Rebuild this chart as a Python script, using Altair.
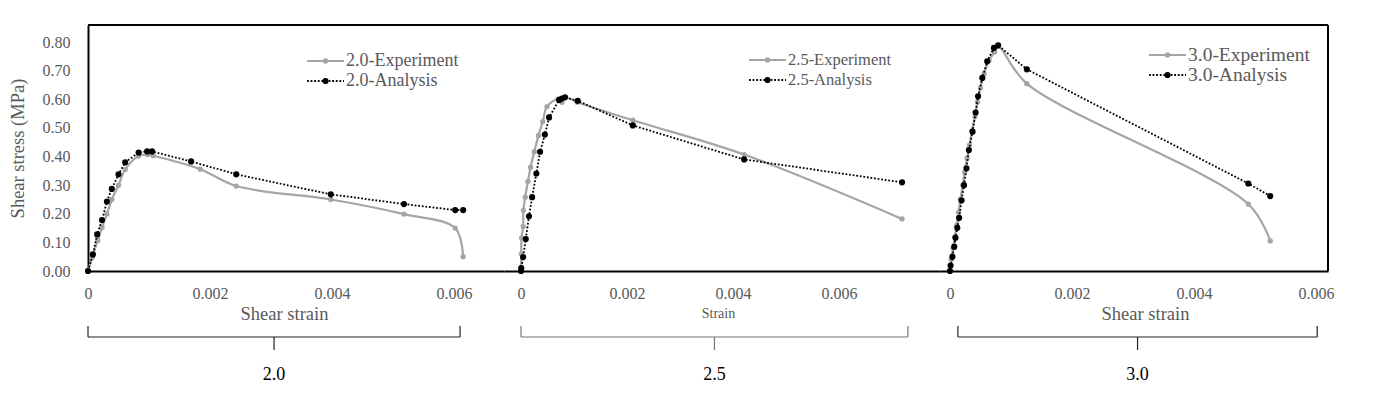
import altair as alt
import pandas as pd

# ---------------- data ----------------
groups = ["2.0", "2.5", "3.0"]
exp_names = ["2.0-Experiment", "2.5-Experiment", "3.0-Experiment"]
ana_names = ["2.0-Analysis", "2.5-Analysis", "3.0-Analysis"]
x_titles = ["Shear strain", "Strain", "Shear strain"]
y_title = "Shear stress (MPa)"
x_ticks = [0, 0.002, 0.004, 0.006]
y_ticks = [0, 0.1, 0.2, 0.3, 0.4, 0.5, 0.6, 0.7, 0.8]

exp_x_20 = [0, 0.00007, 0.00016, 0.00023, 0.00031, 0.00039, 0.00050, 0.00061, 0.00083,
            0.00098, 0.00107, 0.00184, 0.00243, 0.00398, 0.00518, 0.00602, 0.00615]
exp_y_20 = [0, 0.048, 0.107, 0.152, 0.199, 0.250, 0.300, 0.355, 0.402,
            0.407, 0.403, 0.356, 0.297, 0.250, 0.199, 0.150, 0.050]
ana_x_20 = [0, 0.00008, 0.00015, 0.00023, 0.00031, 0.00039, 0.00050, 0.00061, 0.00083,
            0.00097, 0.00105, 0.00169, 0.00243, 0.00398, 0.00518, 0.00602, 0.00615]
ana_y_20 = [0, 0.058, 0.128, 0.178, 0.243, 0.287, 0.338, 0.380, 0.414,
            0.418, 0.418, 0.383, 0.338, 0.268, 0.234, 0.213, 0.213]

exp_x_25 = [0, 0.000005, 0.00001, 0.00004, 0.000045, 0.00008, 0.00013, 0.00018, 0.00025,
            0.00033, 0.00041, 0.00049, 0.00070, 0.00077, 0.00083, 0.00106, 0.00211, 0.00421, 0.00719]
exp_y_25 = [0, 0.060, 0.116, 0.156, 0.212, 0.258, 0.313, 0.363, 0.417,
            0.474, 0.522, 0.575, 0.601, 0.590, 0.607, 0.590, 0.527, 0.407, 0.182]
ana_x_25 = [0, 0.000005, 0.00004, 0.00009, 0.00015, 0.00021, 0.00029, 0.00036, 0.00045,
            0.00053, 0.00072, 0.00077, 0.00083, 0.00107, 0.00211, 0.00421, 0.00719]
ana_y_25 = [0, 0.010, 0.049, 0.112, 0.191, 0.258, 0.341, 0.417, 0.477,
            0.537, 0.598, 0.603, 0.607, 0.595, 0.509, 0.390, 0.310]

exp_x_30 = [0, 0.00002, 0.00005, 0.00008, 0.00011, 0.00014, 0.00017, 0.00021, 0.00024, 0.00028,
            0.00032, 0.00036, 0.00041, 0.00045, 0.00050, 0.00056, 0.00064, 0.00073, 0.00079,
            0.00126, 0.00489, 0.00525]
exp_y_30 = [0, 0.040, 0.080, 0.120, 0.160, 0.205, 0.250, 0.300, 0.345, 0.395,
            0.440, 0.490, 0.540, 0.590, 0.640, 0.690, 0.735, 0.765, 0.785,
            0.655, 0.234, 0.105]
ana_x_30 = [0, 0.00001, 0.00004, 0.00007, 0.00009, 0.00012, 0.00015, 0.00019, 0.00023, 0.00027,
            0.00031, 0.00037, 0.00042, 0.00046, 0.00053, 0.00061, 0.00072, 0.00079,
            0.00126, 0.00489, 0.00525]
ana_y_30 = [0, 0.019, 0.050, 0.085, 0.116, 0.151, 0.186, 0.247, 0.300, 0.359,
            0.423, 0.487, 0.554, 0.611, 0.675, 0.733, 0.780, 0.789,
            0.705, 0.306, 0.262]

# strain range covered by each group brace
brace_lo = [0.0, 0.0, 0.00013]
brace_hi = [0.0061, 0.0073, 0.00602]

# ---------------- layout / style ----------------
H = 246
YMAX = 0.86
FONT = "Liberation Serif"
GRAY = "#A5A5A5"
TXT = "#595959"

panels = [
    dict(ex=exp_x_20, ey=exp_y_20, ax=ana_x_20, ay=ana_y_20, dom=[0, 0.00682], w=416,
         tsize=18.5, tx=196, leg=(219, 36, 18), brace="#222222"),
    dict(ex=exp_x_25, ey=exp_y_25, ax=ana_x_25, ay=ana_y_25, dom=[-0.000321, 0.007887], w=435,
         tsize=14, tx=214, leg=(245, 35, 16.5), brace="#777777"),
    dict(ex=exp_x_30, ey=exp_y_30, ax=ana_x_30, ay=ana_y_30, dom=[-0.000180, 0.006197], w=389,
         tsize=18.5, tx=206, leg=(210, 30, 19.5), brace="#222222"),
]

one = pd.DataFrame({"k": [0]})


def make_panel(i):
    p = panels[i]
    xs = alt.Scale(domain=p["dom"], nice=False, zero=False)
    ys = alt.Scale(domain=[0, YMAX], nice=False, zero=False)

    xaxis = alt.Axis(
        values=x_ticks,
        labelExpr="datum.value == 0 ? '0' : format(datum.value, '.3f')",
        title=x_titles[i], titleFontSize=p["tsize"], titleFont=FONT, titleColor=TXT,
        titleFontWeight="normal", titleX=p["tx"], titleY=42, titleBaseline="middle",
        titleAnchor="middle",
    )
    if i == 0:
        yaxis = alt.Axis(values=y_ticks, format=".2f", title=y_title, titleFontSize=18.5,
                         titleFont=FONT, titleColor=TXT, titleFontWeight="normal",
                         titleX=-60.5, titleY=H / 2, labelPadding=18)
    else:
        yaxis = None

    def X(f):
        return alt.X(f, scale=xs, axis=xaxis)

    def Y(f):
        return alt.Y(f, scale=ys, axis=yaxis)

    de = pd.DataFrame({"strain": p["ex"], "stress": p["ey"], "i": range(len(p["ex"]))})
    da = pd.DataFrame({"strain": p["ax"], "stress": p["ay"], "i": range(len(p["ax"]))})

    exp_line = alt.Chart(de).mark_line(color=GRAY, strokeWidth=2.2, interpolate="catmull-rom").encode(
        x=X("strain:Q"), y=Y("stress:Q"), order="i:Q")
    exp_pts = alt.Chart(de).mark_point(filled=True, color=GRAY, size=28, opacity=1).encode(
        x=X("strain:Q"), y=Y("stress:Q"))
    ana_line = alt.Chart(da).mark_line(color="black", strokeWidth=1.8, strokeDash=[1.8, 1.8]).encode(
        x=X("strain:Q"), y=Y("stress:Q"), order="i:Q")
    ana_pts = alt.Chart(da).mark_point(filled=True, color="black", size=38, opacity=1).encode(
        x=X("strain:Q"), y=Y("stress:Q"))

    # frame: top edge (and right edge on the last panel)
    frame = [alt.Chart(one).mark_rule(color="black", strokeWidth=2).encode(
        x=alt.value(0), x2=alt.value(p["w"]), y=alt.value(0))]
    if i == 2:
        frame.append(alt.Chart(one).mark_rule(color="black", strokeWidth=2).encode(
            x=alt.value(p["w"]), y=alt.value(0), y2=alt.value(H)))

    # legend (drawn inside the plot)
    lx, ly, lsz = p["leg"]
    legend = []
    rows = [(exp_names[i], GRAY, None, 2.2, 28), (ana_names[i], "black", [1.8, 1.8], 1.8, 38)]
    for j, (lab, col, dash, lw, ps) in enumerate(rows):
        yy = ly + j * 20
        kw = dict(color=col, strokeWidth=lw)
        if dash:
            kw["strokeDash"] = dash
        legend.append(alt.Chart(one).mark_rule(**kw).encode(
            x=alt.value(lx), x2=alt.value(lx + 37), y=alt.value(yy)))
        legend.append(alt.Chart(one).mark_point(filled=True, color=col, size=ps, opacity=1).encode(
            x=alt.value(lx + 18.5), y=alt.value(yy)))
        legend.append(alt.Chart(one).mark_text(text=lab, font=FONT, fontSize=lsz, color=TXT,
                                               align="left", baseline="middle").encode(
            x=alt.value(lx + 39), y=alt.value(yy)))

    # group brace and label
    db = pd.DataFrame({"lo": [brace_lo[i]], "hi": [brace_hi[i]],
                       "mid": [(brace_lo[i] + brace_hi[i]) / 2], "g": [groups[i]]})
    bc = p["brace"]
    brace = [
        alt.Chart(db).mark_rule(color=bc, strokeWidth=1.2).encode(
            x=X("lo:Q"), y=alt.value(301), y2=alt.value(312)),
        alt.Chart(db).mark_rule(color=bc, strokeWidth=1.2).encode(
            x=X("hi:Q"), y=alt.value(301), y2=alt.value(312)),
        alt.Chart(db).mark_rule(color=bc, strokeWidth=1.2).encode(
            x=X("lo:Q"), x2="hi:Q", y=alt.value(312)),
        alt.Chart(db).mark_rule(color=bc, strokeWidth=1.2).encode(
            x=X("mid:Q"), y=alt.value(312), y2=alt.value(325)),
        alt.Chart(db).mark_text(font=FONT, fontSize=18, color="black", baseline="middle").encode(
            x=X("mid:Q"), y=alt.value(350), text="g:N"),
    ]

    return alt.layer(exp_line, exp_pts, ana_line, ana_pts, *frame, *legend, *brace).properties(
        width=p["w"], height=H)


chart = alt.hconcat(make_panel(0), make_panel(1), make_panel(2), spacing=0, bounds="flush").properties(
    padding={"left": 0, "top": 16, "right": 5, "bottom": 5}
).configure_view(stroke=None).configure_axis(
    grid=False, ticks=False, tickSize=0, domainColor="black", domainWidth=2,
    labelFont=FONT, labelFontSize=16, labelColor=TXT, labelPadding=14,
    labelFlush=False, labelOverlap=False,
)

chart.save("out.html", embed_options={"renderer": "svg", "actions": False})
